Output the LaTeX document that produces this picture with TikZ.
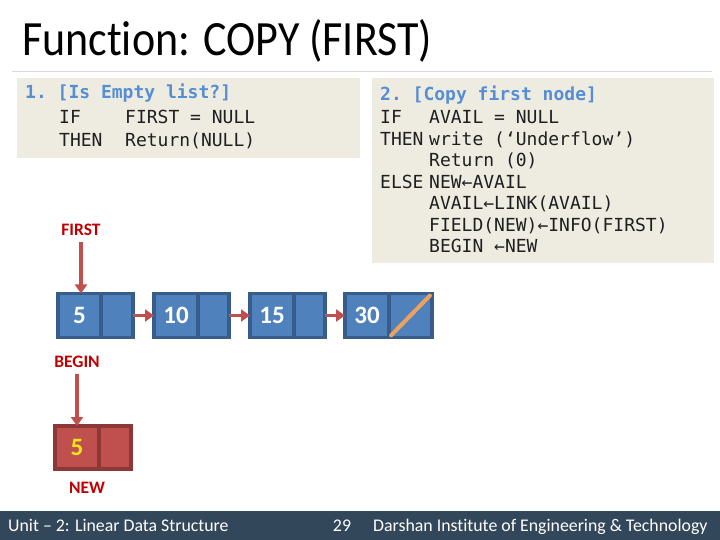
\documentclass[tikz,border=0pt]{standalone}
\usepackage{fontspec}
\setmainfont{Carlito}[Ligatures={NoCommon}]
\setmonofont{DejaVu Sans Mono}
\usepackage{tikz}
\usetikzlibrary{positioning,arrows.meta}
\definecolor{Panel}{HTML}{EEECE1}
\definecolor{CodeBlue}{HTML}{558ED5}
\definecolor{CellBlue}{HTML}{4F81BD}
\definecolor{CellEdge}{HTML}{385D8A}
\definecolor{CellRed}{HTML}{C0504D}
\definecolor{RedEdge}{HTML}{8C3836}
\definecolor{Label}{HTML}{C00000}
\definecolor{Slash}{HTML}{EDA15F}
\definecolor{Digit}{HTML}{FFE81A}
\definecolor{Bar}{HTML}{33475B}
\definecolor{Rule}{HTML}{D9D9D9}
\begin{document}
\begin{tikzpicture}[x=1bp,y=-1bp,
  code/.style={anchor=base west,inner sep=0,font=\ttfamily\fontsize{18bp}{22bp}\selectfont,text=black!88},
  head/.style={code,text=CodeBlue,font=\ttfamily\bfseries\fontsize{18bp}{22bp}\selectfont},
  cell/.style={draw=CellEdge,fill=CellBlue,line width=3.4bp,minimum height=44bp,inner sep=0,outer sep=0,text=white,font=\bfseries\fontsize{25bp}{28bp}\selectfont},
  newcell/.style={cell,draw=RedEdge,fill=CellRed,text=Digit},
  tag/.style={text=Label,font=\bfseries\fontsize{17.5bp}{19bp}\selectfont,inner sep=1bp},
  link/.style={draw=CellRed,line width=3.2bp,-{Triangle[length=9bp,width=12bp]}},
  foot/.style={anchor=base west,inner sep=0,text=white,font=\fontsize{17.8bp}{19bp}\selectfont}]
\useasboundingbox (0,0) rectangle (720,540);
% title
\node[anchor=base west,inner sep=0,yscale=1.12,transform shape,font=\fontsize{44bp}{48bp}\selectfont] (title) at (22,56) {Function: COPY (FIRST)};
\draw[Rule,line width=1bp] (12,72)--(712,72);
% algorithm panels
\fill[Panel] (17,78) rectangle (360,158);
\fill[Panel] (372,78) rectangle (714,263);
\node[head] (h1) at (25,99) {1. [Is Empty list?]};
\node[code] (if1) at (59,124) {IF};
\node[code] (c1) at (125,124) {FIRST = NULL};
\node[code] (then1) at (59,147) {THEN};
\node[code] (r1) at (125,147) {Return(NULL)};
\node[head] (h2) at (380,101) {2. [Copy first node]};
\node[code] (if2) at (380,124) {IF};
\node[code] (c2) at (429,124) {AVAIL = NULL};
\node[code] (then2) at (380,145.5) {THEN};
\node[code] (w2) at (429,145.5) {write (‘Underflow’)};
\node[code] (r2) at (429,167) {Return (0)};
\node[code] (else2) at (380,188.5) {ELSE};
\node[code] (s1) at (429,188.5) {NEW←AVAIL};
\node[code] (s2) at (429,210) {AVAIL←LINK(AVAIL)};
\node[code] (s3) at (429,231.5) {FIELD(NEW)←INFO(FIRST)};
\node[code] (s4) at (429,253) {BEGIN ←NEW};
% list
\node[cell,minimum width=43bp] (d1) at (79.5,315.5) {5};
\node[cell,minimum width=32bp,right=0 of d1] (l1) {};
\node[cell,minimum width=44bp] (d2) at (176,315.5) {10};
\node[cell,minimum width=31bp,right=0 of d2] (l2) {};
\node[cell,minimum width=44bp] (d3) at (272,315.5) {15};
\node[cell,minimum width=31bp,right=0 of d3] (l3) {};
\node[cell,minimum width=44bp] (d4) at (367,315.5) {30};
\node[cell,minimum width=43bp,right=0 of d4] (l4) {};
\draw[Slash,line width=4bp,line cap=round,shorten <=3bp,shorten >=3bp] (l4.south west)--(l4.north east);
\draw[link] (l1)--(d2);
\draw[link] (l2)--(d3);
\draw[link] (l3)--(d4);
\node[tag] (first) at (81,230) {FIRST};
\draw[link,shorten <=5bp] (first.south)--(first.south |- d1.north);
% copy
\node[tag] (begin) at (77,362) {BEGIN};
\node[newcell,minimum width=44bp,minimum height=43bp] (n1) at (77,447.5) {5};
\node[newcell,minimum width=32bp,minimum height=43bp,right=0 of n1] (n2) {};
\draw[link,shorten <=5bp] (begin.south)--(begin.south |- n1.north);
\node[tag] (new) at (87,488) {NEW};
% footer
\fill[Bar] (0,511) rectangle (720,540);
\node[foot] (unit) at (8,531) {Unit – 2: Linear Data Structure};
\node[foot,anchor=base] (page) at (342,531) {29};
\node[foot] (inst) at (373,531) {Darshan Institute of Engineering \& Technology};
\end{tikzpicture}
\end{document}
